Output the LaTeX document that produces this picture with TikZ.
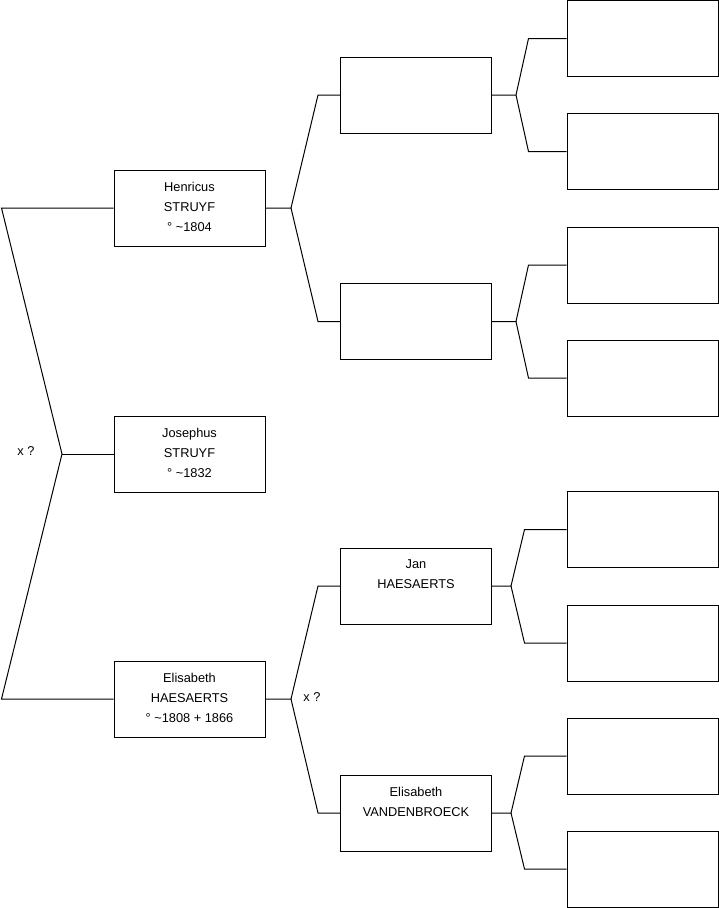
\documentclass[tikz,border=0pt]{standalone}
\usepackage{fontspec}
\setmainfont{Liberation Sans}

\begin{document}
\begin{tikzpicture}[x=1pt, y=-1pt, line width=1pt,
  every node/.style={font=\fontsize{12.8}{20}\selectfont},
  box/.style={draw, rectangle, minimum width=151pt, minimum height=76pt, inner sep=0pt},
  who/.style={anchor=north, align=center, inner sep=0pt, yshift=-12pt}]
  \useasboundingbox (0,0) rectangle (719,908);

  % generation 1
  \node[box] (H) at (189.5,208) {};
  \node[box] (J) at (189.5,454) {};
  \node[box] (E) at (189.5,699) {};
  \node[who] (Ht) at (H.north) {Henricus\\STRUYF\\° \textasciitilde1804};
  \node[who] (Jt) at (J.north) {Josephus\\STRUYF\\° \textasciitilde1832};
  \node[who] (Et) at (E.north) {Elisabeth\\HAESAERTS\\° \textasciitilde1808 + 1866};

  % generation 2
  \node[box] (HF) at (416,95) {};
  \node[box] (HM) at (416,321.5) {};
  \node[box] (EF) at (416,586) {};
  \node[box] (EM) at (416,813) {};
  \node[who] (EFt) at (EF.north) {Jan\\HAESAERTS};
  \node[who] (EMt) at (EM.north) {Elisabeth\\VANDENBROECK};

  % generation 3
  \node[box] (HFF) at (642.5,38.5) {};
  \node[box] (HFM) at (642.5,151.5) {};
  \node[box] (HMF) at (642.5,265) {};
  \node[box] (HMM) at (642.5,378) {};
  \node[box] (EFF) at (642.5,529.5) {};
  \node[box] (EFM) at (642.5,643) {};
  \node[box] (EMF) at (642.5,756) {};
  \node[box] (EMM) at (642.5,869) {};

  % brackets
  \coordinate (top) at (1.5,208);
  \coordinate (bot) at (1.5,699);
  \coordinate (root) at (62,454);
  \draw (H.west) -- (top) -- (root) -- (bot) -- (E.west);
  \draw (root) -- (J.west);
  \node (x1) at (26,451) {x ?};

  \coordinate (fH) at (291,208);
  \draw (H.east) -- (fH) -- ([xshift=-22pt]HF.west) -- (HF.west);
  \draw (fH) -- ([xshift=-22pt]HM.west) -- (HM.west);

  \coordinate (fE) at (291,699);
  \draw (E.east) -- (fE) -- ([xshift=-22pt]EF.west) -- (EF.west);
  \draw (fE) -- ([xshift=-22pt]EM.west) -- (EM.west);
  \node (x2) at (312,697) {x ?};

  \coordinate (fHF) at (516,95);
  \draw (HF.east) -- (fHF) -- ([xshift=-38pt]HFF.west) -- (HFF.west);
  \draw (fHF) -- ([xshift=-38pt]HFM.west) -- (HFM.west);

  \coordinate (fHM) at (516,321.5);
  \draw (HM.east) -- (fHM) -- ([xshift=-38pt]HMF.west) -- (HMF.west);
  \draw (fHM) -- ([xshift=-38pt]HMM.west) -- (HMM.west);

  \coordinate (fEF) at (511,586);
  \draw (EF.east) -- (fEF) -- ([xshift=-42pt]EFF.west) -- (EFF.west);
  \draw (fEF) -- ([xshift=-42pt]EFM.west) -- (EFM.west);

  \coordinate (fEM) at (511,813);
  \draw (EM.east) -- (fEM) -- ([xshift=-42pt]EMF.west) -- (EMF.west);
  \draw (fEM) -- ([xshift=-42pt]EMM.west) -- (EMM.west);
\end{tikzpicture}
\end{document}
